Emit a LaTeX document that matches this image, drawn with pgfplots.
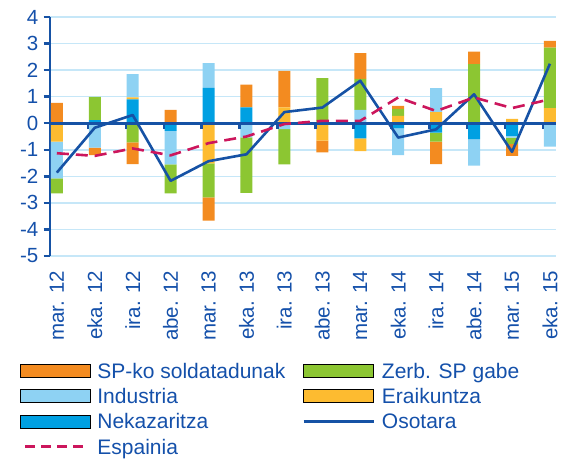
\documentclass[border=0pt]{standalone}
\usepackage{fontspec}
\setmainfont{Liberation Sans}
\usepackage{pgfplots}
\pgfplotsset{compat=1.18}
\usepackage{pgfplotstable}

\definecolor{cSP}{RGB}{243,139,32}
\definecolor{cZerb}{RGB}{140,198,50}
\definecolor{cInd}{RGB}{142,210,243}
\definecolor{cErai}{RGB}{253,187,48}
\definecolor{cNek}{RGB}{0,160,226}
\definecolor{dkblue}{RGB}{22,82,165}
\definecolor{cEsp}{RGB}{204,22,92}
\definecolor{gridc}{RGB}{198,231,248}
\definecolor{txt}{RGB}{20,80,170}

\pgfplotstableread{
x nek erai ind zerb sp
0 0 0 0 0 0.77
1 0.12 0 0 0.87 0
2 0.90 0.07 0.88 0 0
3 0 0 0 0 0.50
4 1.33 0 0.93 0 0
5 0.60 0 0 0 0.85
6 0 0.60 0 0 1.37
7 0 0 0 1.70 0
8 0 0 0.50 1.17 0.97
9 0 0.28 0 0.26 0.11
10 0 0.42 0.90 0 0
11 0 0 0 2.23 0.47
12 0 0.16 0 0 0
13 0 0.57 0 2.28 0.25
}\postab

\pgfplotstableread{
x nek erai ind zerb sp
0 0 -0.69 -1.39 -0.56 0
1 0 0 -0.92 0 -0.28
2 0 0 0 -0.72 -0.82
3 -0.29 0 -1.26 -1.09 0
4 0 -1.51 0 -1.28 -0.88
5 0 0 -0.53 -2.09 0
6 0 0 -0.22 -1.33 0
7 0 -0.66 0 0 -0.44
8 -0.57 -0.48 0 0 0
9 -0.19 0 -1.01 0 0
10 -0.35 0 0 -0.34 -0.85
11 -0.60 0 -1.00 0 0
12 -0.48 0 -0.06 -0.24 -0.45
13 0 0 -0.88 0 0
}\negtab

\pgfplotstableread{
x oso esp
0 -1.86 -1.13
1 -0.17 -1.23
2 0.31 -0.95
3 -2.17 -1.21
4 -1.43 -0.75
5 -1.17 -0.50
6 0.42 -0.03
7 0.59 0.09
8 1.60 0.09
9 -0.54 0.97
10 -0.23 0.46
11 1.09 0.97
12 -1.08 0.57
13 2.24 0.90
}\linetab

\pgfplotsset{
  base/.style={scale only axis, width=506bp, height=239bp,
    xmin=-0.18, xmax=13.16, ymin=-5, ymax=4,
    at={(50bp,204bp)}, anchor=south west},
  legbar/.style={legend image code/.code={\path[fill=#1] (0bp,-6.5bp) rectangle (70bp,6.5bp);}},
  legline/.style={legend image code/.code={\draw[##1] (0bp,0bp) -- (70bp,0bp);}},
  legdash/.style={legend image code/.code={\draw[##1] (5bp,0bp) -- (63bp,0bp);}},
}

\begin{document}
\begin{tikzpicture}
\path[use as bounding box] (0,0) rectangle (580bp,460bp);

% positive stacks, grid, y axis, x labels
\begin{axis}[base,
  axis y line*=left, axis x line*=bottom,
  x axis line style={draw=none},
  y axis line style={dkblue, line width=2.5bp},
  ytick={-5,...,4}, ymajorgrids,
  grid style={gridc, line width=1.5bp},
  xtick={0,...,13},
  xticklabels={mar. 12, eka. 12, ira. 12, abe. 12, mar. 13, eka. 13, ira. 13, abe. 13, mar. 14, eka. 14, ira. 14, abe. 14, mar. 15, eka. 15},
  x tick label style={rotate=90, anchor=east, inner sep=0pt, font=\fontsize{20.5bp}{24bp}\selectfont, text=txt},
  y tick label style={anchor=east, inner sep=0pt, font=\fontsize{20.5bp}{24bp}\selectfont, text=txt},
  xticklabel shift=8bp, yticklabel shift=5bp,
  x tick style={draw=none},
  y tick style={dkblue, line width=2.5bp},
  major tick length=6.5bp, tick align=outside,
  /pgf/number format/assume math mode=true,
  ybar stacked, bar width=12bp,
]
\addplot[fill=cNek, draw=none] table[x=x, y=nek] {\postab};
\addplot[fill=cErai, draw=none] table[x=x, y=erai] {\postab};
\addplot[fill=cInd, draw=none] table[x=x, y=ind] {\postab};
\addplot[fill=cZerb, draw=none] table[x=x, y=zerb] {\postab};
\addplot[fill=cSP, draw=none] table[x=x, y=sp] {\postab};
\end{axis}

% negative stacks
\begin{axis}[base, hide axis, ybar stacked, bar width=12bp]
\addplot[fill=cNek, draw=none] table[x=x, y=nek] {\negtab};
\addplot[fill=cErai, draw=none] table[x=x, y=erai] {\negtab};
\addplot[fill=cInd, draw=none] table[x=x, y=ind] {\negtab};
\addplot[fill=cZerb, draw=none] table[x=x, y=zerb] {\negtab};
\addplot[fill=cSP, draw=none] table[x=x, y=sp] {\negtab};
\end{axis}

% zero line, lines, legend
\begin{axis}[base,
  axis x line*=middle, axis y line=none,
  x axis line style={dkblue, line width=3bp},
  xtick={0.82,1.82,2.82,3.82,4.82,5.82,6.82,7.82,8.82,9.82,10.82,11.82,12.82},
  xticklabels={}, ytick=\empty,
  x tick style={dkblue, line width=2.5bp},
  major tick length=6bp, tick align=outside,
  legend columns=2,
  legend style={at={(axis description cs:-0.0593,-0.436)}, anchor=north west,
    draw=none, fill=none, inner sep=0pt, outer sep=0pt, row sep=4.3bp,
    nodes={inner sep=0pt, anchor=west, text height=18bp, text depth=3bp,
      font=\fontsize{21bp}{25bp}\selectfont, text=txt},
    /tikz/every odd column/.style={column sep=7bp},
    /tikz/column 2/.style={column sep=17bp}},
]
\addplot[dkblue, line width=2.6bp, line join=round, forget plot] table[x=x, y=oso] {\linetab};
\addplot[cEsp, line width=2.6bp, dash pattern=on 12bp off 7bp, forget plot] table[x=x, y=esp] {\linetab};
\addlegendimage{legbar=cSP}\addlegendentry{SP-ko soldatadunak}
\addlegendimage{legbar=cZerb}\addlegendentry{Zerb. SP gabe}
\addlegendimage{legbar=cInd}\addlegendentry{Industria}
\addlegendimage{legbar=cErai}\addlegendentry{Eraikuntza}
\addlegendimage{legbar=cNek}\addlegendentry{Nekazaritza}
\addlegendimage{legline, dkblue, line width=2.6bp}\addlegendentry{Osotara}
\addlegendimage{legdash, cEsp, line width=2.6bp, dash pattern=on 10bp off 6bp}\addlegendentry{Espainia}
\end{axis}
\end{tikzpicture}
\end{document}
